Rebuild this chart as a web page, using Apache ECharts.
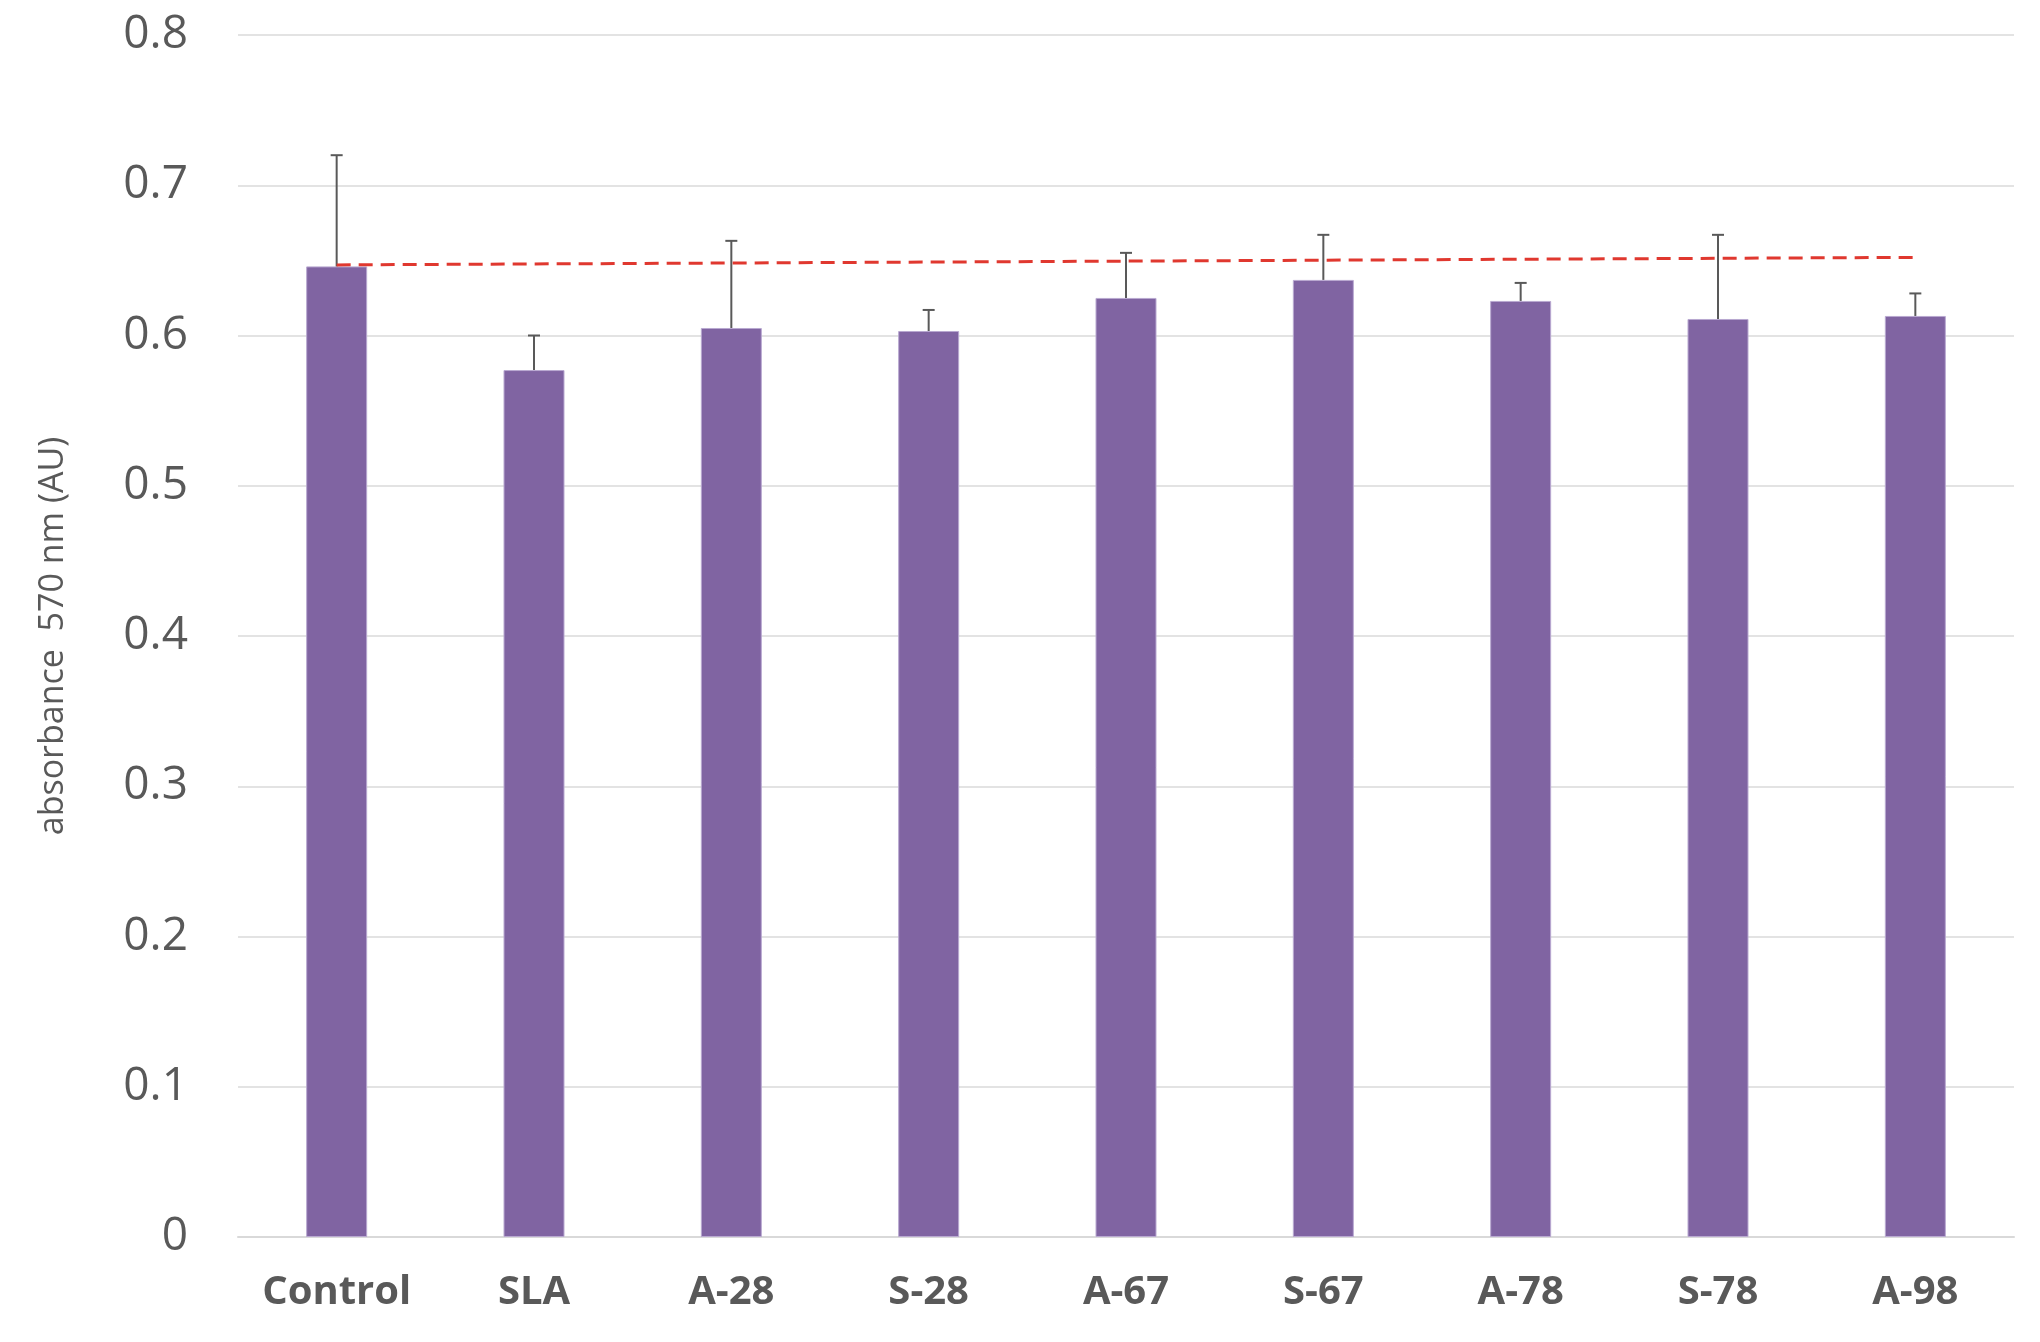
<!DOCTYPE html>
<html><head><meta charset="utf-8">
<style>html,body{margin:0;background:#fff;overflow:hidden}</style>
</head><body>
<div id="chart" style="width:2040px;height:1342px;"></div>
<script src="https://cdn.jsdelivr.net/npm/echarts@6/dist/echarts.min.js"></script>
<script>
var categories = ['Control', 'SLA', 'A-28', 'S-28', 'A-67', 'S-67', 'A-78', 'S-78', 'A-98'];
var means = [0.646, 0.577, 0.605, 0.603, 0.625, 0.637, 0.623, 0.611, 0.613];
var errTops = [0.720, 0.600, 0.663, 0.617, 0.655, 0.667, 0.635, 0.667, 0.628];
var refLine = [0.647, null, null, null, null, null, null, null, 0.652];
var yTicks = [0, 0.1, 0.2, 0.3, 0.4, 0.5, 0.6, 0.7, 0.8];

var chart = echarts.init(document.getElementById('chart'));
var errData = categories.map(function (c, i) { return [i, means[i], errTops[i]]; });

chart.setOption({
    animation: false,
    grid: {left: 238, right: 26, top: 35, bottom: 105},
    xAxis: {
        type: 'category', data: categories,
        axisLine: {lineStyle: {color: '#d9d9d9', width: 2}},
        axisTick: {show: false},
        axisLabel: {color: '#595959', fontSize: 40, fontWeight: 'bold', fontFamily: 'Open Sans', margin: 36}
    },
    yAxis: {
        type: 'value', min: 0, max: 0.8, interval: 0.1,
        name: 'absorbance  570 nm (AU)', nameLocation: 'middle', nameGap: 168,
        nameTextStyle: {color: '#595959', fontSize: 34, fontFamily: 'Open Sans'},
        axisLine: {show: false}, axisTick: {show: false},
        splitLine: {lineStyle: {color: '#e3e3e3', width: 2}},
        axisLabel: {
            color: '#595959', fontSize: 46, fontFamily: 'Open Sans', margin: 50,
            formatter: function (v) {
                var t = yTicks.find(function (x) { return Math.abs(x - v) < 1e-9; });
                return t === 0 ? '0' : String(Math.round(v * 10) / 10);
            }
        }
    },
    series: [
        {
            type: 'bar', data: means, barWidth: 61,
            itemStyle: {color: '#8064a2', borderColor: '#b9a9d1', borderWidth: 1}
        },
        {
            type: 'custom', data: errData, z: 5,
            renderItem: function (params, api) {
                var b = api.coord([api.value(0), api.value(1)]);
                var t = api.coord([api.value(0), api.value(2)]);
                var st = {stroke: '#595959', lineWidth: 2};
                return {type: 'group', children: [
                    {type: 'line', shape: {x1: b[0], y1: b[1], x2: t[0], y2: t[1]}, style: st},
                    {type: 'line', shape: {x1: t[0] - 6, y1: t[1], x2: t[0] + 6, y2: t[1]}, style: st}
                ]};
            }
        },
        {
            type: 'line', data: refLine, connectNulls: true, symbol: 'none', z: 6,
            lineStyle: {color: '#e0382f', width: 3, type: [14, 8]}
        }
    ]
});
</script>
</body></html>
